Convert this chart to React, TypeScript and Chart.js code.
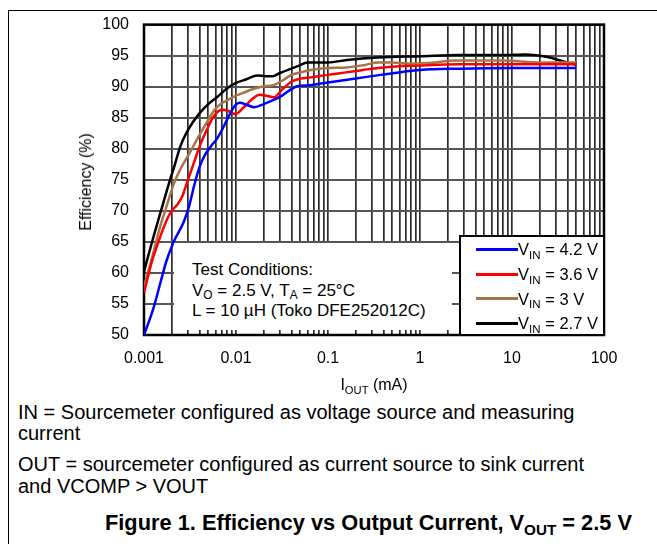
import { useEffect, useRef } from "react";
import { Chart, registerables } from "chart.js";

Chart.register(...registerables);

const FONT = '"Liberation Sans", Arial, Helvetica, sans-serif';

// Series (V_IN values), colours
const seriesNames = ["4.2 V", "3.6 V", "3 V", "2.7 V"];
const seriesColors = ["#0000ff", "#ff0000", "#a57449", "#000000"];

// I_OUT (mA) and efficiency (%) for each series
const ioutVin42 = [0.001, 0.00126, 0.0015, 0.00176, 0.0021, 0.0027, 0.0031, 0.0035, 0.004, 0.0046, 0.0054, 0.0062, 0.0072, 0.0085, 0.0098, 0.011, 0.013, 0.0158, 0.02, 0.026, 0.032, 0.04, 0.047, 0.06, 0.075, 0.13, 0.37, 1, 2.7, 10, 50];
const effVin42 = [50, 54.2, 58.3, 62, 65, 68.2, 70.8, 74, 77, 79, 80.5, 81.6, 83.3, 85.5, 87, 87.4, 87.1, 86.7, 87.2, 87.9, 88.6, 89.6, 90.1, 90.2, 90.4, 90.9, 91.9, 92.7, 92.9, 93.0, 93.0];

const ioutVin36 = [0.001, 0.0012, 0.0015, 0.0018, 0.002, 0.0023, 0.0026, 0.003, 0.0035, 0.004, 0.0048, 0.0057, 0.0065, 0.0072, 0.0085, 0.0098, 0.012, 0.015, 0.018, 0.022, 0.026, 0.032, 0.04, 0.05, 0.065, 0.1, 0.24, 0.4, 1, 2.7, 10, 50];
const effVin36 = [56.8, 61.5, 65.8, 68.8, 70, 71, 72.3, 75, 77.8, 80.3, 83, 85.2, 86.1, 86.3, 86, 85.6, 86.6, 88, 88.7, 88.5, 88.3, 89.6, 90.8, 91.3, 91.5, 91.9, 92.7, 93.1, 93.4, 93.6, 93.6, 93.6];

const ioutVin30 = [0.001, 0.00125, 0.0015, 0.0018, 0.0021, 0.0025, 0.0031, 0.004, 0.0048, 0.0058, 0.0068, 0.008, 0.0095, 0.012, 0.0145, 0.019, 0.026, 0.032, 0.04, 0.05, 0.065, 0.1, 0.16, 0.25, 0.35, 0.5, 0.8, 1.2, 2.5, 8, 20, 50];
const effVin30 = [57.8, 63, 67.5, 71.2, 74.3, 76.8, 79.2, 82.2, 84.2, 86.2, 87.2, 87.8, 88.4, 89, 89.5, 90, 90.3, 91, 91.9, 92.3, 92.7, 93, 93.1, 93.5, 93.9, 93.9, 93.7, 93.8, 94.2, 94.2, 93.9, 93.9];

const ioutVin27 = [0.001, 0.00125, 0.0016, 0.0019, 0.0021, 0.0025, 0.003, 0.004, 0.005, 0.0062, 0.0078, 0.01, 0.013, 0.017, 0.021, 0.025, 0.03, 0.038, 0.047, 0.06, 0.08, 0.1, 0.16, 0.35, 1, 2.7, 8, 14, 22, 50];
const effVin27 = [60.2, 65.5, 71, 74.8, 76.8, 80.5, 83, 85.7, 87.2, 88.3, 89.6, 90.6, 91.2, 91.8, 91.7, 91.7, 92.2, 92.8, 93.3, 93.9, 93.9, 93.9, 94.3, 94.7, 94.9, 95.1, 95.1, 95.2, 94.9, 93.5];

const seriesX = [ioutVin42, ioutVin36, ioutVin30, ioutVin27];
const seriesY = [effVin42, effVin36, effVin30, effVin27];

// Axis ticks
const xDecades = [0.001, 0.01, 0.1, 1, 10, 100];
const xTickLabels = ["0.001", "0.01", "0.1", "1", "10", "100"];
const xMinorSteps = [1, 2, 3, 4, 5, 6, 7, 8, 9];
const yMin = 50;
const yMax = 100;
const yStep = 5;

const xGridValues: number[] = [];
xDecades.forEach((d, i) => {
  if (i === xDecades.length - 1) {
    xGridValues.push(d);
  } else {
    xMinorSteps.forEach((m) => xGridValues.push(d * m));
  }
});

function xLabel(v: number): string {
  for (let i = 0; i < xDecades.length; i++) {
    if (Math.abs(Math.log10(v) - Math.log10(xDecades[i])) < 1e-6) return xTickLabels[i];
  }
  return "";
}

const framePlugin = {
  id: "frame",
  beforeDatasetsDraw(chart: any) {
    const { ctx, chartArea } = chart;
    const { left, top, right, bottom } = chartArea;
    ctx.save();
    ctx.strokeStyle = "#000";
    ctx.lineWidth = 2.5;
    ctx.strokeRect(left, top, right - left, bottom - top);
    ctx.restore();
  },
};

const subStyle: any = { fontSize: "0.7em", position: "relative", top: "0.32em", lineHeight: 0 };

export default function App() {
  const canvasRef = useRef<HTMLCanvasElement | null>(null);

  useEffect(() => {
    if (!canvasRef.current) return;
    const datasets = seriesNames.map((name, i) => ({
      label: "VIN = " + name,
      data: seriesX[i].map((x, j) => ({ x, y: seriesY[i][j] })),
      borderColor: seriesColors[i],
      backgroundColor: seriesColors[i],
      borderWidth: 2.5,
      pointRadius: 0,
      showLine: true,
      fill: false,
      cubicInterpolationMode: "monotone" as const,
    }));
    const chart = new Chart(canvasRef.current, {
      type: "scatter",
      data: { datasets },
      plugins: [framePlugin],
      options: {
        responsive: false,
        animation: false,
        devicePixelRatio: 1,
        layout: { padding: { left: 0, top: 23, right: 53, bottom: 0 } },
        plugins: { legend: { display: false }, tooltip: { enabled: false } },
        scales: {
          x: {
            type: "logarithmic",
            min: 0.001,
            max: 100,
            afterBuildTicks: (scale: any) => {
              scale.ticks = xGridValues.map((v) => ({ value: v }));
            },
            afterFit: (scale: any) => {
              scale.height = 65;
            },
            ticks: {
              autoSkip: false,
              maxRotation: 0,
              padding: 14,
              color: "#000",
              font: { family: FONT, size: 16 },
              callback: (v: any) => xLabel(Number(v)),
            },
            grid: { color: "#2a2a2a", lineWidth: 1.7, drawTicks: false },
            border: { display: false },
          },
          y: {
            type: "linear",
            min: yMin,
            max: yMax,
            afterFit: (scale: any) => {
              scale.width = 144;
            },
            ticks: {
              stepSize: yStep,
              padding: 15,
              color: "#000",
              font: { family: FONT, size: 16 },
            },
            grid: { color: "#555", lineWidth: 2, drawTicks: false },
            border: { display: false },
          },
        },
      },
    } as any);
    return () => chart.destroy();
  }, []);

  const legendCenters = seriesNames.map((_, i) => 249.3 + i * 24.7);

  return (
    <div style={{ position: "absolute", left: 0, top: 0, width: 657, height: 544, overflow: "hidden", background: "#fff", fontFamily: FONT, color: "#000" }}>
      <div style={{ position: "absolute", left: 8, top: 10, width: 700, height: 600, borderTop: "1.5px solid #000", borderLeft: "1.5px solid #000" }} />
      <canvas ref={canvasRef} width={657} height={400} style={{ position: "absolute", left: 0, top: 0, width: 657, height: 400 }} />

      {/* y axis title */}
      <div style={{ position: "absolute", left: 86, top: 182, transform: "translate(-50%, -50%) rotate(-90deg)", whiteSpace: "nowrap", fontSize: 16, lineHeight: "16px" }}>
        Efficiency (%)
      </div>
      {/* x axis title */}
      <div style={{ position: "absolute", left: 374, top: 385, transform: "translate(-50%, -50%)", whiteSpace: "nowrap", fontSize: 16, lineHeight: "16px" }}>
        I<span style={subStyle}>OUT</span> (mA)
      </div>

      {/* test conditions box */}
      <div style={{ position: "absolute", left: 174, top: 243, width: 278, height: 87, background: "#fff", boxSizing: "border-box", paddingLeft: 18, paddingTop: 17, fontSize: 17, lineHeight: "20.5px", whiteSpace: "nowrap" }}>
        <div>Test Conditions:</div>
        <div>
          V<span style={subStyle}>O</span> = 2.5 V, T<span style={subStyle}>A</span> = 25°C
        </div>
        <div>L = 10 µH (Toko DFE252012C)</div>
      </div>

      {/* legend */}
      <div style={{ position: "absolute", left: 459, top: 235, width: 146, height: 101, boxSizing: "border-box", border: "2px solid #000", background: "#fff" }} />
      {seriesNames.map((name, i) => (
        <div key={name}>
          <div style={{ position: "absolute", left: 476, top: legendCenters[i] - 1.5, width: 42, height: 3, background: seriesColors[i] }} />
          <div style={{ position: "absolute", left: 518, top: legendCenters[i] - 8.1, fontSize: 16.5, lineHeight: "16.5px", whiteSpace: "nowrap" }}>
            V<span style={subStyle}>IN</span> = {name}
          </div>
        </div>
      ))}

      {/* caption */}
      <div style={{ position: "absolute", left: 18, top: 402, fontSize: 20, lineHeight: "20px", whiteSpace: "nowrap" }}>
        IN = Sourcemeter configured as voltage source and measuring
      </div>
      <div style={{ position: "absolute", left: 18, top: 423, fontSize: 20, lineHeight: "20px", whiteSpace: "nowrap" }}>current</div>
      <div style={{ position: "absolute", left: 18, top: 454, fontSize: 20, lineHeight: "20px", whiteSpace: "nowrap" }}>
        OUT = sourcemeter configured as current source to sink current
      </div>
      <div style={{ position: "absolute", left: 18, top: 476, fontSize: 20, lineHeight: "20px", whiteSpace: "nowrap" }}>
        and VCOMP &gt; VOUT
      </div>
      <div style={{ position: "absolute", left: 105, top: 512, fontSize: 21.8, lineHeight: "21.8px", fontWeight: "bold", whiteSpace: "nowrap" }}>
        Figure 1. Efficiency vs Output Current, V<span style={subStyle}>OUT</span> = 2.5 V
      </div>
    </div>
  );
}
